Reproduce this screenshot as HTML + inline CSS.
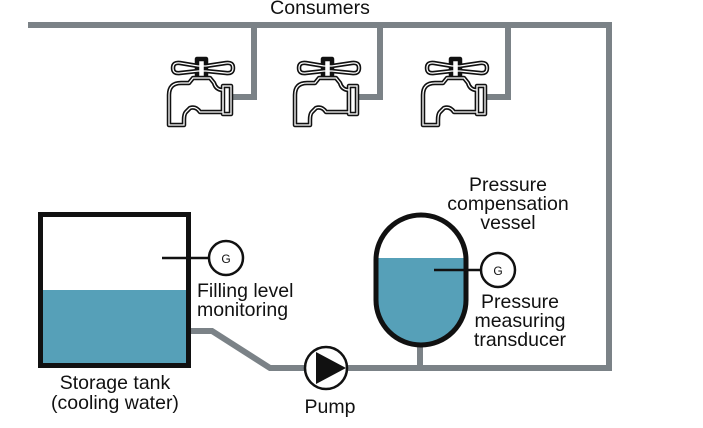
<!DOCTYPE html>
<html><head><meta charset="utf-8"><style>
html,body{margin:0;padding:0;background:#fff;}
svg{display:block}
text{font-family:"Liberation Sans",sans-serif;font-size:19.5px;fill:#111}
</style></head><body>
<svg width="703" height="428" viewBox="0 0 703 428" xmlns="http://www.w3.org/2000/svg">
<defs>
<g id="tap">
 <g stroke="#111" stroke-width="4.5" stroke-linejoin="round">
  <path d="M13 18 Q13 12 20 13 L38 16 L46 16 L66 13 Q73 12 73 18 Q73 24 66 23 L46 21 L38 21 L20 23 Q13 24 13 18 Z" fill="#fff"/>
  <rect x="37" y="9" width="9" height="20" fill="#fff"/>
  <path d="M9 75 L9 45 Q9 33 21 33 L29 33 L33 28 L50 28 L54 33 Q56 40 63 40 L63 62 L40 62 Q36 56 30 58 L26 62 Q24 64 24 70 L24 75 Z" fill="#fff"/>
  <rect x="63" y="36" width="8" height="28" fill="#fff"/>
 </g>
 <g stroke="#fff" stroke-width="1.3" fill="none">
  <path d="M13 18 Q13 12 20 13 L38 16 L46 16 L66 13 Q73 12 73 18 Q73 24 66 23 L46 21 L38 21 L20 23 Q13 24 13 18 Z"/>
  <path d="M9 75 L9 45 Q9 33 21 33 L29 33 L33 28 L50 28 L54 33 Q56 40 63 40 L63 62 L40 62 Q36 56 30 58 L26 62 Q24 64 24 70 L24 75 Z"/>
  <rect x="63" y="36" width="8" height="28"/>
 </g>
</g>
</defs>
<g stroke="#7b8287" stroke-width="6" fill="none" stroke-linejoin="miter">
 <path d="M28 25 L609 25 L609 368 L270 368 L212 331 L191 331"/>
 <path d="M254 25 L254 97 L230 97"/>
 <path d="M380 25 L380 97 L356 97"/>
 <path d="M508 25 L508 97 L484 97"/>
 <path d="M420 340 L420 368"/>
</g>
<use href="#tap" x="160" y="50"/>
<use href="#tap" x="286" y="50"/>
<use href="#tap" x="414" y="50"/>
<text x="320" y="14" text-anchor="middle">Consumers</text>
<rect x="40.5" y="290" width="148" height="75" fill="#56a0b8"/>
<rect x="40.5" y="214.5" width="148" height="151" fill="none" stroke="#111" stroke-width="5"/>
<line x1="162" y1="258" x2="209" y2="258" stroke="#111" stroke-width="2.5"/>
<circle cx="226" cy="258" r="17" fill="#fff" stroke="#111" stroke-width="2.5"/>
<text x="226" y="263" text-anchor="middle" style="font-size:12px">G</text>
<text x="197" y="297">Filling level</text>
<text x="197" y="316">monitoring</text>
<text x="115" y="389" text-anchor="middle">Storage tank</text>
<text x="115" y="409" text-anchor="middle">(cooling water)</text>
<circle cx="326" cy="368" r="21" fill="#fff" stroke="#111" stroke-width="2.5"/>
<path d="M316 352 L346 368 L316 384 Z" fill="#111"/>
<text x="330" y="413" text-anchor="middle">Pump</text>
<clipPath id="vc"><path d="M376 260 A45 45 0 0 1 466 260 L466 300 A45 45 0 0 1 376 300 Z"/></clipPath>
<rect x="376" y="258" width="90" height="100" fill="#56a0b8" clip-path="url(#vc)"/>
<path d="M376 260 A45 45 0 0 1 466 260 L466 300 A45 45 0 0 1 376 300 Z" fill="none" stroke="#111" stroke-width="5"/>
<line x1="434" y1="270" x2="481" y2="270" stroke="#111" stroke-width="2.5"/>
<circle cx="498" cy="270" r="17" fill="#fff" stroke="#111" stroke-width="2.5"/>
<text x="498" y="275" text-anchor="middle" style="font-size:12px">G</text>
<text x="508" y="191" text-anchor="middle">Pressure</text>
<text x="508" y="210" text-anchor="middle">compensation</text>
<text x="508" y="229" text-anchor="middle">vessel</text>
<text x="520" y="308" text-anchor="middle">Pressure</text>
<text x="520" y="327" text-anchor="middle">measuring</text>
<text x="520" y="346" text-anchor="middle">transducer</text>
</svg>
</body></html>
